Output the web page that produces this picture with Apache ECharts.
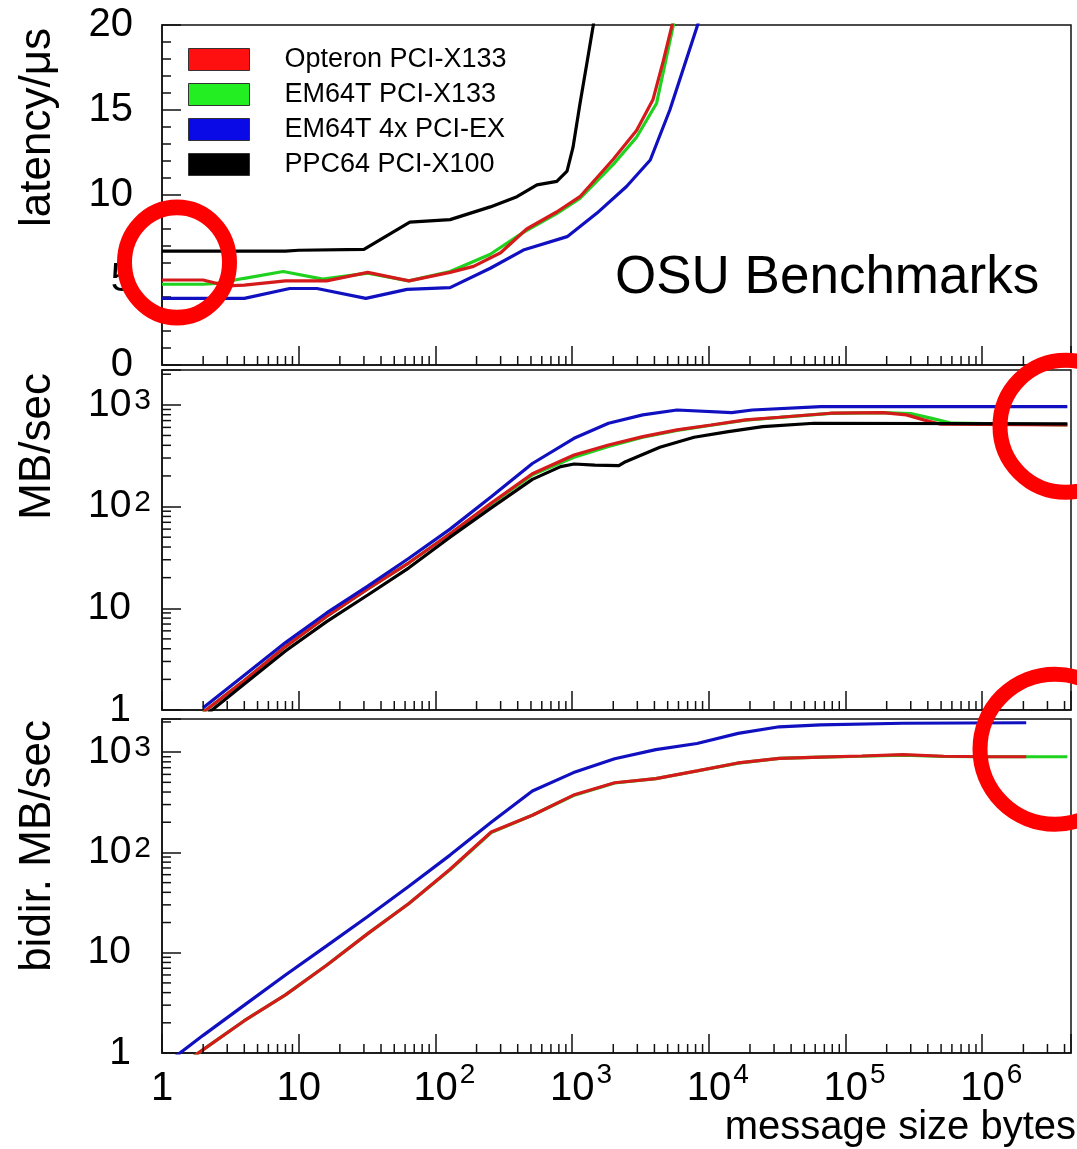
<!DOCTYPE html>
<html>
<head>
<meta charset="utf-8">
<script src="https://cdn.jsdelivr.net/npm/echarts@6.0.0/dist/echarts.min.js"></script>
<style>
  html, body { margin: 0; padding: 0; background: #fff; }
  #chart { width: 1077px; height: 1149px; }
</style>
</head>
<body>
<div id="chart"></div>
<script>
const FONT = 'Liberation Sans';

// legend order
const seriesNames = ['Opteron PCI-X133', 'EM64T PCI-X133', 'EM64T 4x PCI-EX', 'PPC64 PCI-X100'];
const lineColors = ['#d41a1a', '#1fd21f', '#1010c0', '#000000'];
const legendColors = ['#ff1010', '#22ee22', '#0a0ae6', '#000000'];

const xRange = [1, 4.46e6];
const latencyRange = [0, 20];
const bwRange = [1, 2200];
const bidirRange = [1, 2140];

// latency / us  vs message size (bytes)
const latOpteron = [[1, 5.0], [2, 5.0], [3, 4.65], [4, 4.7], [8, 4.95], [16, 4.95], [32, 5.45], [64, 4.95], [128, 5.45], [190, 5.8], [300, 6.6], [465, 8.0], [770, 9.0], [1140, 9.9], [2000, 12.1], [2960, 13.8], [3900, 15.6], [4650, 17.9], [5350, 19.9], [6000, 21.5]];
const latEm64t = [[1, 4.75], [2, 4.75], [2.5, 4.8], [4, 5.1], [7.7, 5.5], [15, 5.05], [32, 5.4], [64, 4.95], [128, 5.5], [250, 6.5], [440, 7.8], [770, 8.9], [1140, 9.8], [2000, 11.8], [2960, 13.4], [4150, 15.4], [5470, 19.9], [6200, 21.5]];
const latEm64tPcie = [[1, 3.92], [4, 3.92], [8.6, 4.5], [13.6, 4.5], [31, 3.92], [62, 4.45], [128, 4.55], [252, 5.69], [440, 6.76], [920, 7.55], [1513, 8.92], [2500, 10.5], [3730, 12.06], [5185, 15.0], [6580, 17.55], [8200, 19.9], [9500, 21.5]];
const latPpc64 = [[1, 6.7], [8, 6.7], [10, 6.75], [30, 6.8], [44, 7.6], [65, 8.4], [128, 8.55], [252, 9.3], [395, 9.9], [553, 10.6], [773, 10.8], [918, 11.4], [1015, 12.8], [1143, 15.4], [1285, 17.8], [1422, 19.9], [1550, 22]];

// MB/sec
const bwOpteron = [[2, 0.95], [4, 1.95], [8, 4.2], [16, 8.3], [32, 15.5], [64, 28], [128, 54], [256, 108], [512, 210], [1033, 321], [1846, 403], [3289, 487], [5850, 567], [10400, 634], [18500, 711], [33000, 755], [78000, 827], [187000, 838], [279000, 796], [373000, 711], [497000, 645], [4194304, 634]];
const bwEm64t = [[2, 0.95], [4, 1.95], [8, 4.2], [16, 8.3], [32, 15.5], [64, 28], [128, 54], [256, 106], [512, 205], [1033, 305], [1846, 390], [3289, 480], [5850, 560], [10400, 630], [18500, 705], [33000, 752], [78000, 825], [187000, 838], [300000, 820], [420000, 740], [600000, 660], [4194304, 634]];
const bwEm64tPcie = [[2, 1.05], [4, 2.2], [8, 4.6], [16, 9.0], [32, 16.5], [64, 31], [128, 60], [256, 125], [512, 265], [1033, 469], [1846, 659], [3289, 796], [5850, 890], [14700, 838], [20800, 890], [66000, 960], [4194304, 960]];
const bwPpc64 = [[2, 0.85], [4, 1.8], [8, 3.8], [16, 7.4], [32, 13.5], [64, 25], [128, 50], [256, 97], [512, 185], [824, 247], [1033, 262], [1466, 256], [2197, 252], [2460, 276], [4385, 383], [7800, 480], [13900, 546], [24800, 611], [58900, 659], [4194304, 650]];

// bidir. MB/sec
const biOpteron = [[1, 0.55], [2, 1.08], [4, 2.1], [8, 3.8], [16, 7.5], [32, 15.5], [64, 31], [128, 68], [256, 160], [512, 235], [1024, 373], [2048, 495], [4096, 545], [8192, 650], [16384, 780], [32768, 866], [65536, 890], [131072, 915], [262144, 945], [524288, 910], [1048576, 900], [2097152, 900]];
const biEm64t = [[1, 0.55], [2, 1.08], [4, 2.1], [8, 3.8], [16, 7.5], [32, 15.5], [64, 31], [128, 67], [256, 158], [512, 235], [1024, 370], [2048, 492], [4096, 545], [8192, 648], [16384, 778], [32768, 866], [65536, 890], [131072, 910], [262144, 935], [524288, 905], [1048576, 900], [2097152, 900], [4194304, 900]];
const biEm64tPcie = [[1, 0.73], [2, 1.5], [4, 3.0], [8, 6.0], [16, 11.7], [32, 23], [64, 46], [128, 94], [256, 200], [512, 410], [1024, 625], [2048, 860], [4096, 1060], [8192, 1220], [16384, 1540], [32768, 1790], [65536, 1870], [262144, 1940], [2097152, 1963]];

const panels = [
  { top: 25, height: 340, yType: 'value', range: latencyRange, data: [latOpteron, latEm64t, latEm64tPcie, latPpc64] },
  { top: 370, height: 340, yType: 'log', range: bwRange, data: [bwOpteron, bwEm64t, bwEm64tPcie, bwPpc64] },
  { top: 719, height: 334, yType: 'log', range: bidirRange, data: [biOpteron, biEm64t, biEm64tPcie, null] }
];
const drawOrder = [1, 0, 3, 2];

function logMinorTicks(min, max) {
  const out = [];
  for (let d = Math.floor(Math.log10(min)); d <= Math.ceil(Math.log10(max)); d++) {
    for (let m = 2; m <= 9; m++) {
      const v = m * Math.pow(10, d);
      if (v > min && v < max) out.push(v);
    }
  }
  return out;
}

function decade(v) {
  const l = Math.log10(v);
  const k = Math.round(l);
  return Math.abs(l - k) < 1e-6 ? k : null;
}

const axisLineStyle = { color: '#111', width: 1.5 };

const chart = echarts.init(document.getElementById('chart'));
const grid = [], xAxis = [], yAxis = [], series = [];

panels.forEach((p, i) => {
  const last = i === panels.length - 1;
  grid.push({ left: 162, right: 6, top: p.top, height: p.height, show: true, borderColor: '#111', borderWidth: 1.5 });
  xAxis.push({
    gridIndex: i, type: 'log', logBase: 10, min: xRange[0], max: xRange[1],
    axisLine: { show: true, onZero: false, lineStyle: axisLineStyle },
    axisTick: { show: true, inside: true, length: 19, lineStyle: axisLineStyle },
    splitLine: { show: false },
    axisLabel: {
      show: last, margin: 8, color: '#000',
      formatter: v => {
        const k = decade(v);
        if (k === null) return '';
        if (k === 0) return '{b|1}';
        if (k === 1) return '{b|10}';
        return '{sp|}{b|10}{s|' + k + '}';
      },
      rich: {
        b: { fontFamily: FONT, fontSize: 40, lineHeight: 40, padding: [16, 0, 0, 0], color: '#000' },
        s: { fontFamily: FONT, fontSize: 28, lineHeight: 28, verticalAlign: 'top', padding: [0, 0, 0, 2], color: '#000' },
        sp: { width: 18 }
      }
    }
  });
  if (p.yType === 'value') {
    yAxis.push({
      gridIndex: i, type: 'value', min: p.range[0], max: p.range[1], interval: 5,
      axisLine: { show: true, lineStyle: axisLineStyle },
      axisTick: { show: true, inside: true, length: 19, lineStyle: axisLineStyle },
      minorTick: { show: true, splitNumber: 5, length: 9, lineStyle: axisLineStyle },
      splitLine: { show: false },
      axisLabel: { fontFamily: FONT, fontSize: 40, color: '#000', margin: 29 }
    });
  } else {
    yAxis.push({
      gridIndex: i, type: 'log', logBase: 10, min: p.range[0], max: p.range[1],
      axisLine: { show: true, lineStyle: axisLineStyle },
      axisTick: { show: true, inside: true, length: 19, lineStyle: axisLineStyle },
      splitLine: { show: false },
      axisLabel: {
        margin: 11, color: '#000',
        formatter: v => {
          const k = decade(v);
          if (k === null) return '';
          if (k === 0) return '{b|1}{sp|}';
          if (k === 1) return '{b|10}{sp|}';
          return '{b|10}{s|' + k + '}';
        },
        rich: {
          b: { fontFamily: FONT, fontSize: 39, lineHeight: 38, padding: [14, 0, 14, 0], color: '#000' },
          s: { fontFamily: FONT, fontSize: 30, lineHeight: 30, verticalAlign: 'top', padding: [0, 0, 0, 3], color: '#000' },
          sp: { width: 20 }
        }
      }
    });
    // minor ticks 2..9 on log y
    series.push({
      type: 'custom', xAxisIndex: i, yAxisIndex: i, silent: true, z: 5,
      data: logMinorTicks(p.range[0], p.range[1]).map(v => [xRange[0], v]),
      renderItem: (params, api) => {
        const pt = api.coord([api.value(0), api.value(1)]);
        return { type: 'line', shape: { x1: pt[0], y1: pt[1], x2: pt[0] + 9, y2: pt[1] }, style: { stroke: '#111', lineWidth: 1.5 } };
      }
    });
  }
  // minor ticks 2..9 on log x
  series.push({
    type: 'custom', xAxisIndex: i, yAxisIndex: i, silent: true, z: 5,
    data: logMinorTicks(xRange[0], xRange[1]).map(v => [v, p.range[0]]),
    renderItem: (params, api) => {
      const pt = api.coord([api.value(0), api.value(1)]);
      return { type: 'line', shape: { x1: pt[0], y1: pt[1], x2: pt[0], y2: pt[1] - 9 }, style: { stroke: '#111', lineWidth: 1.5 } };
    }
  });
  drawOrder.forEach(s => {
    if (!p.data[s]) return;
    series.push({
      name: seriesNames[s], type: 'line', xAxisIndex: i, yAxisIndex: i,
      data: p.data[s], showSymbol: false, clip: true, z: 3,
      lineStyle: { color: lineColors[s], width: 3.2 },
      itemStyle: { color: lineColors[s] }
    });
  });
});

function ring(cx, cy, r, sy) {
  return {
    type: 'circle', x: cx, y: cy, scaleY: sy, z: 100, silent: true,
    shape: { cx: 0, cy: 0, r: r },
    style: { fill: null, stroke: '#ff0000', lineWidth: 15 }
  };
}

const titleStyle = { fontFamily: FONT, fontSize: 44, fill: '#000', align: 'right', verticalAlign: 'middle' };

chart.setOption({
  animation: false,
  backgroundColor: '#fff',
  grid, xAxis, yAxis, series,
  legend: {
    left: 183, top: 41, orient: 'vertical', icon: 'rect',
    itemWidth: 61, itemHeight: 22, itemGap: 8, selectedMode: false,
    textStyle: { fontFamily: FONT, fontSize: 27, color: '#000', padding: [0, 0, 0, 30] },
    itemStyle: { borderColor: '#333', borderWidth: 1 },
    data: seriesNames.map((n, i) => ({ name: n, itemStyle: { color: legendColors[i] } }))
  },
  graphic: [
    { type: 'text', x: 38, y: 28, rotation: Math.PI / 2, style: Object.assign({ text: 'latency/μs' }, titleStyle) },
    { type: 'text', x: 38, y: 373, rotation: Math.PI / 2, style: Object.assign({ text: 'MB/sec' }, titleStyle) },
    { type: 'text', x: 38, y: 720, rotation: Math.PI / 2, style: Object.assign({ text: 'bidir. MB/sec' }, titleStyle) },
    { type: 'text', x: 615, y: 278, style: { text: 'OSU Benchmarks', fontFamily: FONT, fontSize: 53, fill: '#000', align: 'left', verticalAlign: 'middle' } },
    { type: 'text', x: 1076, y: 1128, style: { text: 'message size bytes', fontFamily: FONT, fontSize: 40, fill: '#000', align: 'right', verticalAlign: 'middle' } },
    ring(177, 262.5, 52.5, 1.05),
    ring(1066, 426.3, 66, 1.0),
    ring(1055, 749.2, 75, 1.0)
  ]
});
</script>
</body>
</html>
